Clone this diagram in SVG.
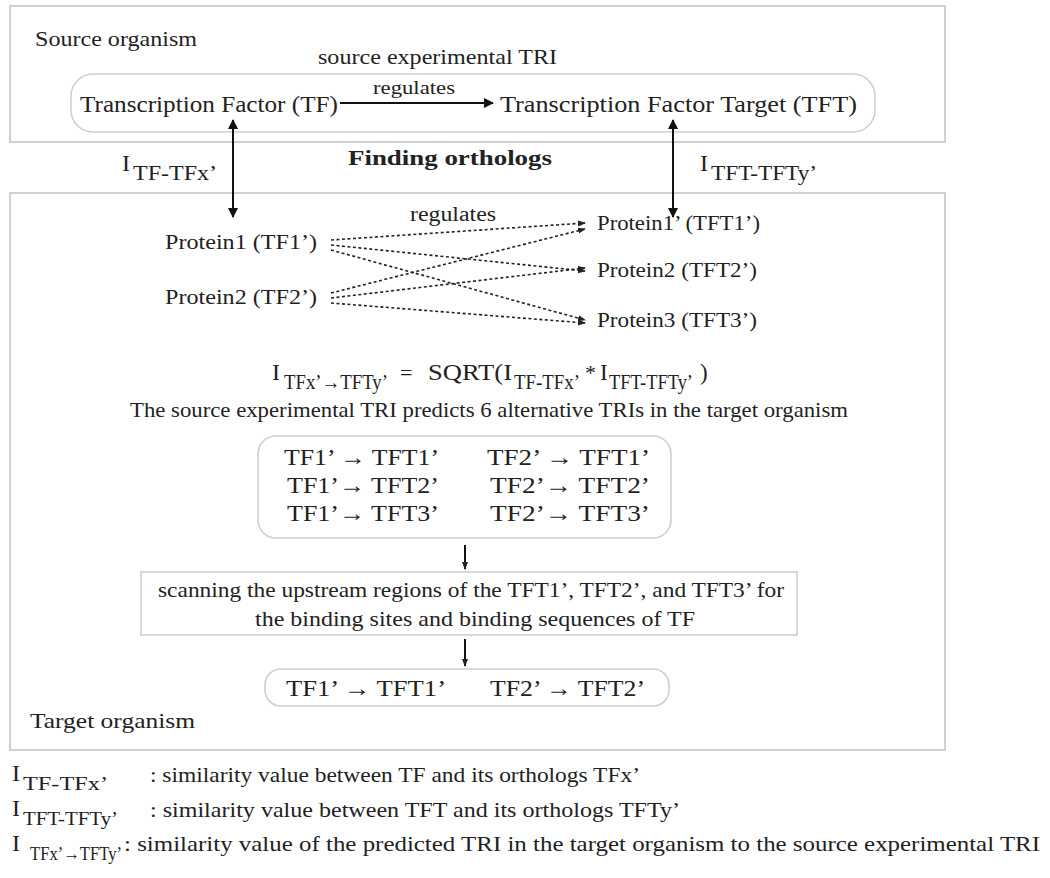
<svg xmlns="http://www.w3.org/2000/svg" width="1050" height="878" viewBox="0 0 1050 878">
<defs>
<style>
text{font-family:"Liberation Serif","Times New Roman",serif;fill:#222;}
.frame{fill:#fff;stroke:#d0d0d0;stroke-width:2;}
.rbox{fill:#fff;stroke:#cfcfcf;stroke-width:1.6;}
.solid{stroke:#111;stroke-width:2;fill:none;}
.dash{stroke:#222;stroke-width:1.6;fill:none;stroke-dasharray:3,2.5;}
</style>
<marker id="ah" markerWidth="10" markerHeight="12" refX="9" refY="6" orient="auto-start-reverse" markerUnits="userSpaceOnUse">
<path d="M0,1 L10,6 L0,11 Z" fill="#111"/>
</marker>
<marker id="ahs" markerWidth="8" markerHeight="8" refX="7" refY="4" orient="auto" markerUnits="userSpaceOnUse">
<path d="M0,1 L8,4 L0,7 Z" fill="#222"/>
</marker>
</defs>
<rect width="1050" height="878" fill="#fff"/>

<g id="source-organism">
<rect class="frame" x="10" y="6" width="935" height="136"/>
<text x="35" y="46" font-size="22" textLength="162" lengthAdjust="spacingAndGlyphs">Source organism</text>
<text x="318" y="64" font-size="21" textLength="239" lengthAdjust="spacingAndGlyphs">source experimental TRI</text>
</g>

<g id="source-tri">
<rect class="rbox" x="71" y="74" width="804" height="58" rx="22"/>
<text x="80" y="112" font-size="23" textLength="258" lengthAdjust="spacingAndGlyphs">Transcription Factor (TF)</text>
<text x="373" y="94" font-size="19" textLength="82" lengthAdjust="spacingAndGlyphs">regulates</text>
<text x="500" y="112" font-size="23" textLength="357" lengthAdjust="spacingAndGlyphs">Transcription Factor Target (TFT)</text>
</g>

<g id="finding-orthologs">
<text x="348" y="165" font-size="21" font-weight="bold" textLength="204" lengthAdjust="spacingAndGlyphs">Finding orthologs</text>
<text x="122" y="171" font-size="24">I</text>
<text x="133" y="180" font-size="20" textLength="84" lengthAdjust="spacingAndGlyphs">TF-TFx’</text>
<text x="700" y="171" font-size="24">I</text>
<text x="711" y="180" font-size="20" textLength="106" lengthAdjust="spacingAndGlyphs">TFT-TFTy’</text>
</g>

<g id="target-organism">
<rect class="frame" x="10" y="193" width="935" height="557"/>
<text x="30" y="728" font-size="22" textLength="165" lengthAdjust="spacingAndGlyphs">Target organism</text>
</g>

<g id="tf-orthologs">
<text x="165" y="249" font-size="22" textLength="152" lengthAdjust="spacingAndGlyphs">Protein1 (TF1’)</text>
<text x="165" y="304" font-size="22" textLength="152" lengthAdjust="spacingAndGlyphs">Protein2 (TF2’)</text>
</g>

<g id="tft-orthologs">
<text x="410" y="221" font-size="20" textLength="86" lengthAdjust="spacingAndGlyphs">regulates</text>
<text x="597" y="230" font-size="22" textLength="163" lengthAdjust="spacingAndGlyphs">Protein1’ (TFT1’)</text>
<text x="597" y="277" font-size="22" textLength="160" lengthAdjust="spacingAndGlyphs">Protein2 (TFT2’)</text>
<text x="597" y="327" font-size="22" textLength="160" lengthAdjust="spacingAndGlyphs">Protein3 (TFT3’)</text>
</g>

<g id="formula">
<text x="272" y="380" font-size="24">I</text>
<text x="284" y="389" font-size="20" textLength="104" lengthAdjust="spacingAndGlyphs">TFx’→TFTy’</text>
<text x="400" y="380" font-size="22">=</text>
<text x="428" y="380" font-size="23" textLength="84" lengthAdjust="spacingAndGlyphs">SQRT(I</text>
<text x="514" y="389" font-size="20" textLength="66" lengthAdjust="spacingAndGlyphs">TF-TFx’</text>
<text x="585" y="380" font-size="22">*</text>
<text x="600" y="380" font-size="23">I</text>
<text x="609" y="389" font-size="20" textLength="84" lengthAdjust="spacingAndGlyphs">TFT-TFTy’</text>
<text x="700" y="380" font-size="23">)</text>
<text x="130" y="417" font-size="21" textLength="718" lengthAdjust="spacingAndGlyphs">The source experimental TRI predicts 6 alternative TRIs in the target organism</text>
</g>

<g id="alternative-tris">
<rect class="rbox" x="258" y="436" width="413" height="102" rx="18"/>
<text x="284" y="465" font-size="24" textLength="155" lengthAdjust="spacingAndGlyphs">TF1’ → TFT1’</text>
<text x="487" y="465" font-size="24" textLength="163" lengthAdjust="spacingAndGlyphs">TF2’ → TFT1’</text>
<text x="287" y="493" font-size="24" textLength="152" lengthAdjust="spacingAndGlyphs">TF1’→ TFT2’</text>
<text x="490" y="493" font-size="24" textLength="160" lengthAdjust="spacingAndGlyphs">TF2’→ TFT2’</text>
<text x="287" y="521" font-size="24" textLength="152" lengthAdjust="spacingAndGlyphs">TF1’→ TFT3’</text>
<text x="490" y="521" font-size="24" textLength="160" lengthAdjust="spacingAndGlyphs">TF2’→ TFT3’</text>
</g>

<g id="scanning">
<rect class="rbox" x="141" y="572" width="656" height="63"/>
<text x="158" y="597" font-size="22" textLength="626" lengthAdjust="spacingAndGlyphs">scanning the upstream regions of the TFT1’, TFT2’, and TFT3’ for</text>
<text x="255" y="626" font-size="22" textLength="440" lengthAdjust="spacingAndGlyphs">the binding sites and binding sequences of TF</text>
</g>

<g id="final-tris">
<rect class="rbox" x="265" y="669" width="404" height="37" rx="16"/>
<text x="286" y="696" font-size="24" textLength="160" lengthAdjust="spacingAndGlyphs">TF1’ → TFT1’</text>
<text x="490" y="696" font-size="24" textLength="155" lengthAdjust="spacingAndGlyphs">TF2’ → TFT2’</text>
</g>

<g id="connectors">
<line class="solid" x1="340" y1="103" x2="493" y2="103" marker-end="url(#ah)"/>
<line class="solid" x1="233" y1="120" x2="233" y2="217" marker-start="url(#ah)" marker-end="url(#ah)"/>
<line class="solid" x1="673" y1="120" x2="673" y2="217" marker-start="url(#ah)" marker-end="url(#ah)"/>
<line class="dash" x1="331" y1="240" x2="585" y2="223" marker-end="url(#ahs)"/>
<line class="dash" x1="331" y1="245" x2="585" y2="271" marker-end="url(#ahs)"/>
<line class="dash" x1="331" y1="250" x2="585" y2="320" marker-end="url(#ahs)"/>
<line class="dash" x1="331" y1="293" x2="585" y2="229" marker-end="url(#ahs)"/>
<line class="dash" x1="331" y1="298" x2="585" y2="268" marker-end="url(#ahs)"/>
<line class="dash" x1="331" y1="303" x2="585" y2="323" marker-end="url(#ahs)"/>
<line class="solid" x1="465" y1="545" x2="465" y2="569" marker-end="url(#ahs)"/>
<line class="solid" x1="465" y1="639" x2="465" y2="666" marker-end="url(#ahs)"/>
</g>

<g id="legend">
<text x="12" y="781" font-size="24">I</text>
<text x="23" y="790" font-size="19" textLength="85" lengthAdjust="spacingAndGlyphs">TF-TFx’</text>
<text x="150" y="782" font-size="21" textLength="490" lengthAdjust="spacingAndGlyphs">: similarity value between TF and its orthologs TFx’</text>
<text x="12" y="816" font-size="24">I</text>
<text x="23" y="825" font-size="19" textLength="95" lengthAdjust="spacingAndGlyphs">TFT-TFTy’</text>
<text x="150" y="817" font-size="21" textLength="530" lengthAdjust="spacingAndGlyphs">: similarity value between TFT and its orthologs TFTy’</text>
<text x="12" y="851" font-size="24">I</text>
<text x="30" y="860" font-size="19" textLength="92" lengthAdjust="spacingAndGlyphs">TFx’→TFTy’</text>
<text x="124" y="851" font-size="21" textLength="916" lengthAdjust="spacingAndGlyphs">: similarity value of the predicted TRI in the target organism to the source  experimental TRI</text>
</g>
</svg>
